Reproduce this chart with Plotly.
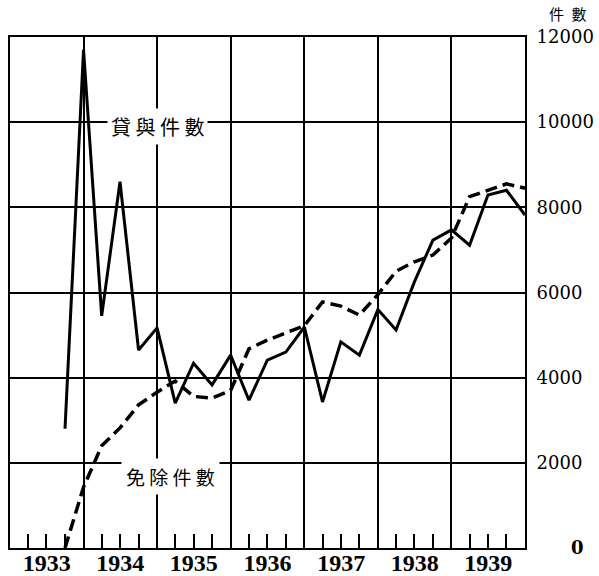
import plotly.graph_objects as go

# quarter-end dates (points sit on the quarterly tick marks)
periods = [
    "1933-10-01", "1934-01-01", "1934-04-01", "1934-07-01", "1934-10-01",
    "1935-01-01", "1935-04-01", "1935-07-01", "1935-10-01",
    "1936-01-01", "1936-04-01", "1936-07-01", "1936-10-01",
    "1937-01-01", "1937-04-01", "1937-07-01", "1937-10-01",
    "1938-01-01", "1938-04-01", "1938-07-01", "1938-10-01",
    "1939-01-01", "1939-04-01", "1939-07-01", "1939-10-01",
    "1940-01-01",
]
# 貸與件數 (solid line)
loans = [2800, 11700, 5450, 8600, 4650,
         5170, 3400, 4340, 3830,
         4530, 3470, 4410, 4600,
         5190, 3430, 4840, 4530,
         5600, 5120, 6250, 7230,
         7470, 7110, 8290, 8400,
         7820]
# 免除件數 (dashed line)
exemptions = [0, 1430, 2400, 2820, 3360,
              3660, 3920, 3560, 3520,
              3700, 4680, 4880, 5050,
              5220, 5780, 5680, 5470,
              5950, 6500, 6720, 6880,
              7280, 8250, 8400, 8550,
              8450]

y_tickvals = [0, 2000, 4000, 6000, 8000, 10000, 12000]
y_ticktext = ["\u2007\u2007\u2007<b>0</b>", "2000", "4000", "6000", "8000", "10000", "12000"]

W, H = 599, 576
L, R, T, B = 10, 74, 37, 28

fig = go.Figure()
fig.add_trace(go.Scatter(x=periods, y=loans, mode="lines",
                         line=dict(color="black", width=3), name="貸與件數"))
fig.add_trace(go.Scatter(x=periods, y=exemptions, mode="lines",
                         line=dict(color="black", width=3.5, dash="12px,6px"), name="免除件數"))

fig.update_layout(
    width=W, height=H,
    margin=dict(l=L, r=R, t=T, b=B, autoexpand=False),
    paper_bgcolor="white", plot_bgcolor="white",
    showlegend=False,
    font=dict(family="DejaVu Serif", color="black"),
    xaxis=dict(
        type="date", range=["1933-01-01", "1940-01-01"], automargin=False,
        dtick="M12", tick0="1933-01-01", tickformat="%Y", ticklabelmode="period",
        showgrid=True, gridcolor="black", gridwidth=2,
        showline=True, linecolor="black", linewidth=2, mirror=True,
        ticks="", zeroline=False, ticklabelstandoff=-8,
        tickfont=dict(family="Liberation Serif", size=24, color="black", weight="bold"),
        minor=dict(dtick="M3", tick0="1933-01-01", ticks="inside", ticklen=14,
                   tickwidth=2, tickcolor="black", showgrid=False),
    ),
    yaxis=dict(
        range=[0, 12000], side="right", automargin=False,
        tickvals=y_tickvals, ticktext=y_ticktext,
        showgrid=True, gridcolor="black", gridwidth=2,
        showline=True, linecolor="black", linewidth=2, mirror=True,
        zeroline=False, ticks="", ticklabelstandoff=6,
        tickfont=dict(family="DejaVu Serif", size=18, color="black"),
    ),
    annotations=[
        dict(x="1935-01-01", y=9900, xref="x", yref="y", text="貸 與 件 數",
             showarrow=False, bgcolor="white", borderpad=3,
             font=dict(family="Noto Sans CJK TC", size=20, color="black")),
        dict(x="1935-03-10", y=1690, xref="x", yref="y", text="免 除 件 數",
             showarrow=False, bgcolor="white", borderpad=4,
             font=dict(family="Noto Sans CJK TC", size=19, color="black")),
        dict(x=(568 - L) / (W - L - R), y=(H - B - 14) / (H - T - B), xref="paper", yref="paper",
             text="件\u2002數", showarrow=False, xanchor="center", yanchor="middle",
             font=dict(family="Noto Sans CJK TC", size=15, color="black")),
    ],
)

fig.write_html("out.html", config={"displayModeBar": False},
               post_script="document.body.style.margin='0';document.body.style.overflow='hidden';")
